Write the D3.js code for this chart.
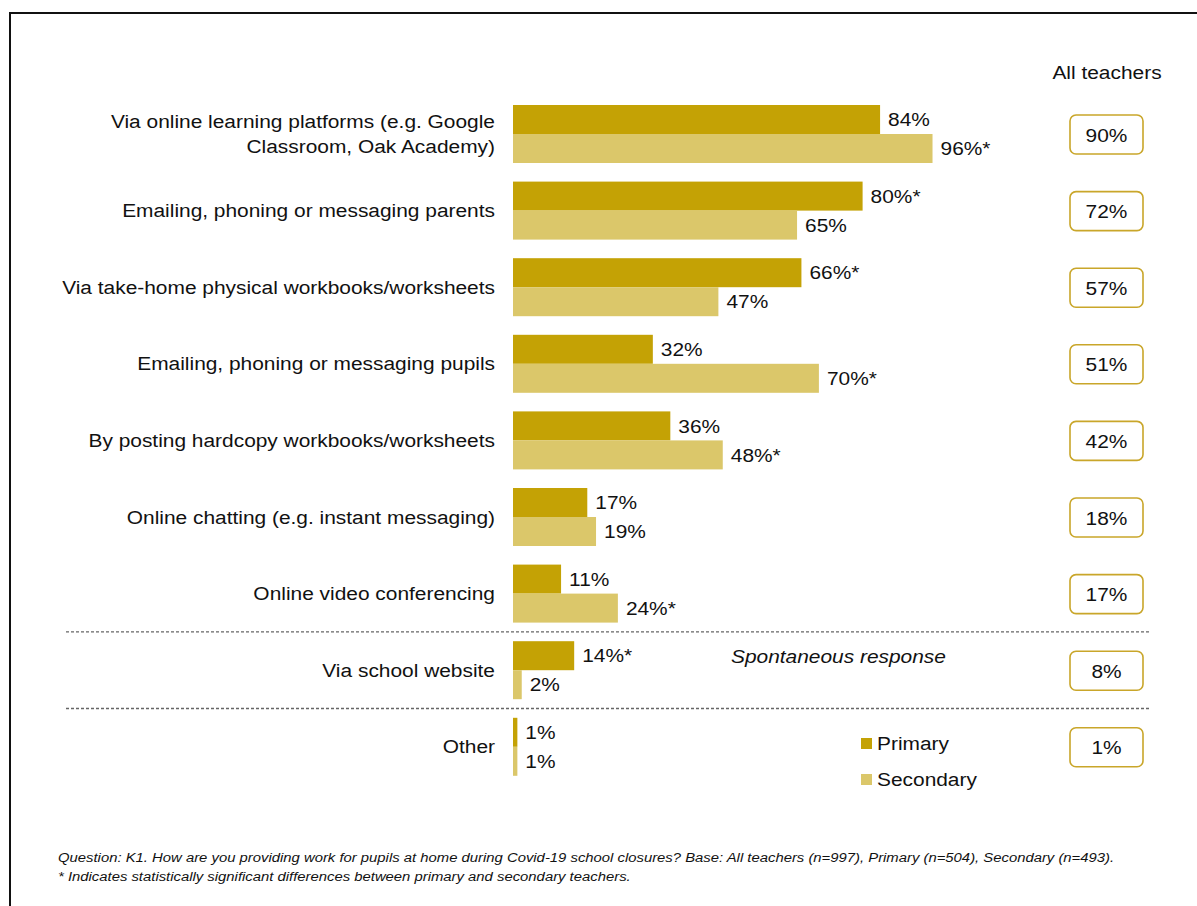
<!DOCTYPE html>
<html>
<head>
<meta charset="utf-8">
<script src="https://cdn.jsdelivr.net/npm/d3@7"></script>
<style>
  body { margin: 0; background: #fff; }
  svg { display: block; font-family: Arial, "Liberation Sans", sans-serif; }
</style>
</head>
<body>
<div id="chart"></div>
<script>
const categories = [
  'Via online learning platforms (e.g. Google|Classroom, Oak Academy)',
  'Emailing, phoning or messaging parents',
  'Via take-home physical workbooks/worksheets',
  'Emailing, phoning or messaging pupils',
  'By posting hardcopy workbooks/worksheets',
  'Online chatting (e.g. instant messaging)',
  'Online video conferencing',
  'Via school website',
  'Other'
];
const primary = [84, 80, 66, 32, 36, 17, 11, 14, 1];
const secondary = [96, 65, 47, 70, 48, 19, 24, 2, 1];
const primarySig = [false, true, true, false, false, false, false, true, false];
const secondarySig = [true, false, false, true, true, false, true, false, false];
const allTeachers = [90, 72, 57, 51, 42, 18, 17, 8, 1];
const seriesNames = ['Primary', 'Secondary'];

const width = 1197;
const height = 906;
const colors = { Primary: '#c4a205', Secondary: '#dbc76a' };
const SX = 1.1; // the original text is a bit wider than plain Arial

const svg = d3
  .select('#chart')
  .append('svg')
  .attr('width', width)
  .attr('height', height);

// place text with horizontal stretch
const at = (tx, ty) => `translate(${tx},${ty}) scale(${SX},1)`;

// outer frame (runs off the page on right and bottom)
svg.append('rect')
  .attr('x', 10).attr('y', 13)
  .attr('width', 1300).attr('height', 1000)
  .attr('fill', 'none').attr('stroke', '#111').attr('stroke-width', 2);

const x = d3.scaleLinear().domain([0, 100]).range([513, 950]);
const y = d3.scaleBand()
  .domain(categories)
  .range([95.7, 785.1])
  .paddingInner(0.2428)
  .paddingOuter(0.1214);
const ySub = d3.scaleBand().domain(seriesNames).range([0, y.bandwidth()]);

const rows = categories.map((c, i) => ({
  cat: c, i,
  vals: [
    { key: 'Primary', v: primary[i], sig: primarySig[i] },
    { key: 'Secondary', v: secondary[i], sig: secondarySig[i] }
  ]
}));

const row = svg.append('g')
  .selectAll('g')
  .data(rows)
  .join('g')
  .attr('transform', d => `translate(0,${y(d.cat)})`);

row.selectAll('rect.bar')
  .data(d => d.vals)
  .join('rect')
  .attr('class', 'bar')
  .attr('x', x(0))
  .attr('y', d => ySub(d.key))
  .attr('width', d => x(d.v) - x(0))
  .attr('height', ySub.bandwidth())
  .attr('fill', d => colors[d.key]);

row.selectAll('text.val')
  .data(d => d.vals)
  .join('text')
  .attr('class', 'val')
  .attr('transform', d => at(x(d.v) + 8, ySub(d.key) + ySub.bandwidth() / 2))
  .attr('dy', '0.35em')
  .attr('font-size', 19)
  .attr('fill', '#111')
  .text(d => d.v + '%' + (d.sig ? '*' : ''));

// category labels
row.append('text')
  .attr('text-anchor', 'end')
  .attr('font-size', 19)
  .attr('fill', '#111')
  .attr('transform', at(495, y.bandwidth() / 2))
  .each(function (d) {
    const lines = d.cat.split('|');
    d3.select(this).selectAll('tspan')
      .data(lines)
      .join('tspan')
      .attr('x', 0)
      .attr('y', (l, k) => (k - (lines.length - 1) / 2) * 25)
      .attr('dy', '0.35em')
      .text(l => l);
  });

// All teachers boxes
svg.append('text')
  .attr('transform', at(1107, 72))
  .attr('dy', '0.35em')
  .attr('text-anchor', 'middle')
  .attr('font-size', 19)
  .attr('fill', '#111')
  .text('All teachers');

row.append('rect')
  .attr('x', 1070)
  .attr('y', y.bandwidth() / 2 - 19)
  .attr('width', 73)
  .attr('height', 39)
  .attr('rx', 6)
  .attr('fill', '#fff')
  .attr('stroke', '#c9a62a')
  .attr('stroke-width', 1.6);

row.append('text')
  .attr('transform', at(1106.5, y.bandwidth() / 2 + 1))
  .attr('dy', '0.35em')
  .attr('text-anchor', 'middle')
  .attr('font-size', 19)
  .attr('fill', '#111')
  .text(d => allTeachers[d.i] + '%');

// dashed separators
[categories[7], categories[8]].forEach(c => {
  const yy = y(c) - (y.step() - y.bandwidth()) / 2;
  svg.append('line')
    .attr('x1', 66).attr('x2', 1150)
    .attr('y1', yy).attr('y2', yy)
    .attr('stroke', '#666')
    .attr('stroke-width', 1.3)
    .attr('stroke-dasharray', '3,2');
});

svg.append('text')
  .attr('transform', at(731, y(categories[7]) + 15))
  .attr('dy', '0.35em')
  .attr('font-size', 19)
  .attr('font-style', 'italic')
  .attr('fill', '#111')
  .text('Spontaneous response');

// legend
const legend = svg.append('g')
  .selectAll('g')
  .data(seriesNames)
  .join('g')
  .attr('transform', (d, i) => `translate(861,${738 + i * 36})`);
legend.append('rect')
  .attr('width', 11).attr('height', 11)
  .attr('fill', d => colors[d]);
legend.append('text')
  .attr('transform', at(16, 5.5))
  .attr('dy', '0.35em')
  .attr('font-size', 19)
  .attr('fill', '#111')
  .text(d => d);

// footnotes
const notes = [
  'Question: K1. How are you providing work for pupils at home during Covid-19 school closures? Base: All teachers (n=997), Primary (n=504), Secondary (n=493).',
  '* Indicates statistically significant differences between primary and secondary teachers.'
];
svg.append('g')
  .selectAll('text')
  .data(notes)
  .join('text')
  .attr('transform', (d, i) => at(58, 857 + i * 19))
  .attr('dy', '0.35em')
  .attr('font-size', 13.5)
  .attr('font-style', 'italic')
  .attr('fill', '#111')
  .text(d => d);
</script>
</body>
</html>
